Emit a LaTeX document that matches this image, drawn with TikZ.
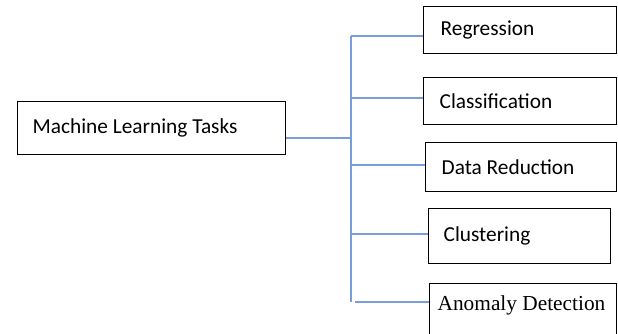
\documentclass[tikz,border=0pt]{standalone}
\usepackage{fontspec}
\setmainfont{Carlito}
\newfontfamily\timesfont{Liberation Serif}
\usepackage{xcolor}
\usetikzlibrary{calc}
\pgfdeclarelayer{edgelayer}
\pgfdeclarelayer{nodelayer}
\pgfsetlayers{edgelayer,nodelayer,main}
\definecolor{linkblue}{RGB}{122,158,220}
\tikzstyle{taskbox}=[draw=black,line width=1pt,anchor=north west,align=flush left,inner ysep=0pt,font=\fontsize{16}{19}\selectfont]
\tikzstyle{link}=[draw=linkblue,line width=0.8pt]
\tikzstyle{every picture}=[x=0.75pt,y=-0.75pt]

\begin{document}
\begin{tikzpicture}
	\useasboundingbox (0,0) rectangle (618,333);
	\clip (0,0) rectangle (618,333);
	\begin{pgfonlayer}{nodelayer}
		\node [style=taskbox,inner xsep=11.25pt,text width=178.5pt,minimum height=39.75pt] (ml) at (17,101) {Machine Learning Tasks};
		\node [style=taskbox,inner xsep=12.75pt,text width=119.25pt,minimum height=35.25pt] (reg) at (423,6) {Regression};
		\node [style=taskbox,inner xsep=12pt,text width=120.75pt,minimum height=35.25pt] (cls) at (423,77) {Classification};
		\node [style=taskbox,inner xsep=12pt,text width=119.25pt,minimum height=36.75pt] (red) at (425,142) {Data Reduction};
		\node [style=taskbox,inner xsep=11.25pt,text width=114pt,minimum height=41.25pt] (clu) at (428,208) {Clustering};
		\node [style=taskbox,inner xsep=6pt,inner ysep=9pt,text width=128.25pt,text depth=60pt,font=\timesfont\fontsize{16}{19}\selectfont] (ano) at (429,283) {Anomaly Detection};
		\coordinate (hub) at (351,138);
		\coordinate (top) at (351,36);
		\coordinate (bot) at (351,302);
	\end{pgfonlayer}
	\begin{pgfonlayer}{edgelayer}
		\draw [style=link] (ml.east |- hub) -- (hub);
		\draw [style=link] (top) -- (bot);
		\foreach \n/\y in {reg/36,cls/98,red/165,clu/234}
		{
			\coordinate (b-\n) at (351,\y);
			\draw [style=link] (b-\n) -- (b-\n -| \n.west);
		}
		\coordinate (b-ano) at (355,302);
		\draw [style=link] (b-ano) -- (b-ano -| ano.west);
	\end{pgfonlayer}
\end{tikzpicture}
\end{document}
